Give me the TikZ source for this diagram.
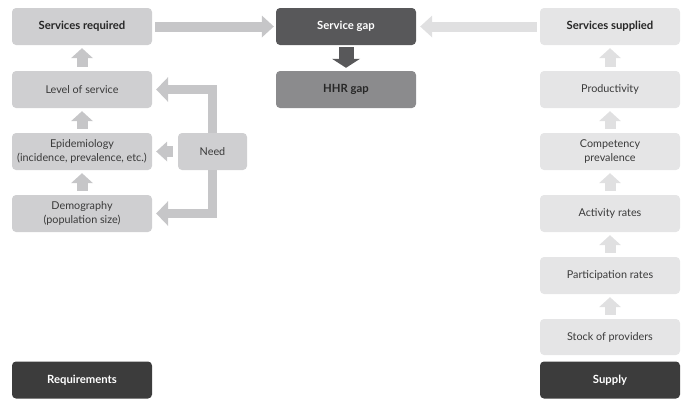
\documentclass[tikz,border=0pt]{standalone}
\usepackage{fontspec}
\setmainfont{Lato}
\usepackage{tikz}
\usetikzlibrary{arrows.meta,calc,positioning}
\definecolor{reqgray}{HTML}{CFCFD1}
\definecolor{reqarrow}{HTML}{C6C6C8}
\definecolor{supgray}{HTML}{E5E5E6}
\definecolor{suparrow}{HTML}{E0E0E1}
\definecolor{gapdark}{HTML}{58585A}
\definecolor{hhrgray}{HTML}{8B8B8D}
\definecolor{headdark}{HTML}{3C3C3C}
\definecolor{textgray}{HTML}{3A3A3A}
\tikzset{
  box/.style={rounded corners=4pt, minimum width=140pt, minimum height=37pt,
    inner sep=2pt, align=center, text=textgray, font=\fontsize{10.8}{14.5}\selectfont},
  reqbox/.style={box, fill=reqgray},
  supbox/.style={box, fill=supgray},
  boldbox/.style={font=\fontsize{11.3}{14}\selectfont\bfseries},
  upar/.style={line width=11pt, -{Triangle[width=22pt,length=10pt,line width=0pt]},
    shorten <=4pt, shorten >=3pt},
  sidear/.style={line width=10pt, line join=miter,
    -{Triangle[width=22pt,length=12pt,line width=0pt]}}
}
\begin{document}
\begin{tikzpicture}[x=1pt,y=-1pt]
      \useasboundingbox (0,0) rectangle (683,402);
      % Requirements column
      \node[reqbox,boldbox,text=black!85] (req) at (82,26.5) {Services required};
      \node[reqbox] (level) at (82,89.5) {Level of service};
      \node[reqbox] (epi) at (82,151.5) {Epidemiology\\(incidence, prevalence, etc.)};
      \node[reqbox] (demo) at (82,213.5) {Demography\\(population size)};
      \node[reqbox,minimum width=69pt] (need) at (212.5,151.5) {Need};
      \node[box,boldbox,fill=headdark,text=white] (requirements) at (82,380) {Requirements};
      % Gaps
      \node[box,boldbox,fill=gapdark,text=white] (sgap) at (346,26.5) {Service gap};
      \node[box,boldbox,fill=hhrgray,text=black!85] (hhr) at (346,89.5) {HHR gap};
      % Supply column
      \node[supbox,boldbox,text=black!85] (supplied) at (610,26.5) {Services supplied};
      \node[supbox] (prod) at (610,89.5) {Productivity};
      \node[supbox] (comp) at (610,151.5) {Competency\\prevalence};
      \node[supbox] (act) at (610,213.5) {Activity rates};
      \node[supbox] (part) at (610,275.5) {Participation rates};
      \node[supbox,minimum height=36pt] (stock) at (610,337) {Stock of providers};
      \node[box,boldbox,fill=headdark,text=white] (supply) at (610,380) {Supply};
      % Upward arrows
      \draw[upar,draw=reqarrow] (level) -- (req);
      \draw[upar,draw=reqarrow] (epi) -- (level);
      \draw[upar,draw=reqarrow] (demo) -- (epi);
      \draw[upar,draw=suparrow] (prod) -- (supplied);
      \draw[upar,draw=suparrow] (comp) -- (prod);
      \draw[upar,draw=suparrow] (act) -- (comp);
      \draw[upar,draw=suparrow] (part) -- (act);
      \draw[upar,draw=suparrow] (stock) -- (part);
      % Need arrows
      \draw[sidear,draw=reqarrow,line width=9pt,-{Triangle[width=25pt,length=12pt,line width=0pt]},
        shorten >=4pt] (need.north) |- (level.east);
      \draw[sidear,draw=reqarrow,line width=9pt,-{Triangle[width=25pt,length=12pt,line width=0pt]},
        shorten >=4pt] (need.south) |- (demo.east);
      \draw[sidear,draw=reqarrow,line width=11pt,-{Triangle[width=20pt,length=11pt,line width=0pt]},
        shorten <=5pt, shorten >=4pt] (need.west) -- (epi.east);
      % Gap arrows
      \draw[sidear,draw=reqarrow,shorten <=3pt,shorten >=2pt] (req.east) -- (sgap.west);
      \draw[sidear,draw=suparrow,shorten <=3pt,shorten >=4pt] (supplied.west) -- (sgap.east);
      \draw[line width=15pt,draw=gapdark,-{Triangle[width=28pt,length=9pt,line width=0pt]},
        shorten <=2pt,shorten >=3pt] (sgap.south) -- (hhr.north);
    \end{tikzpicture}
\end{document}
